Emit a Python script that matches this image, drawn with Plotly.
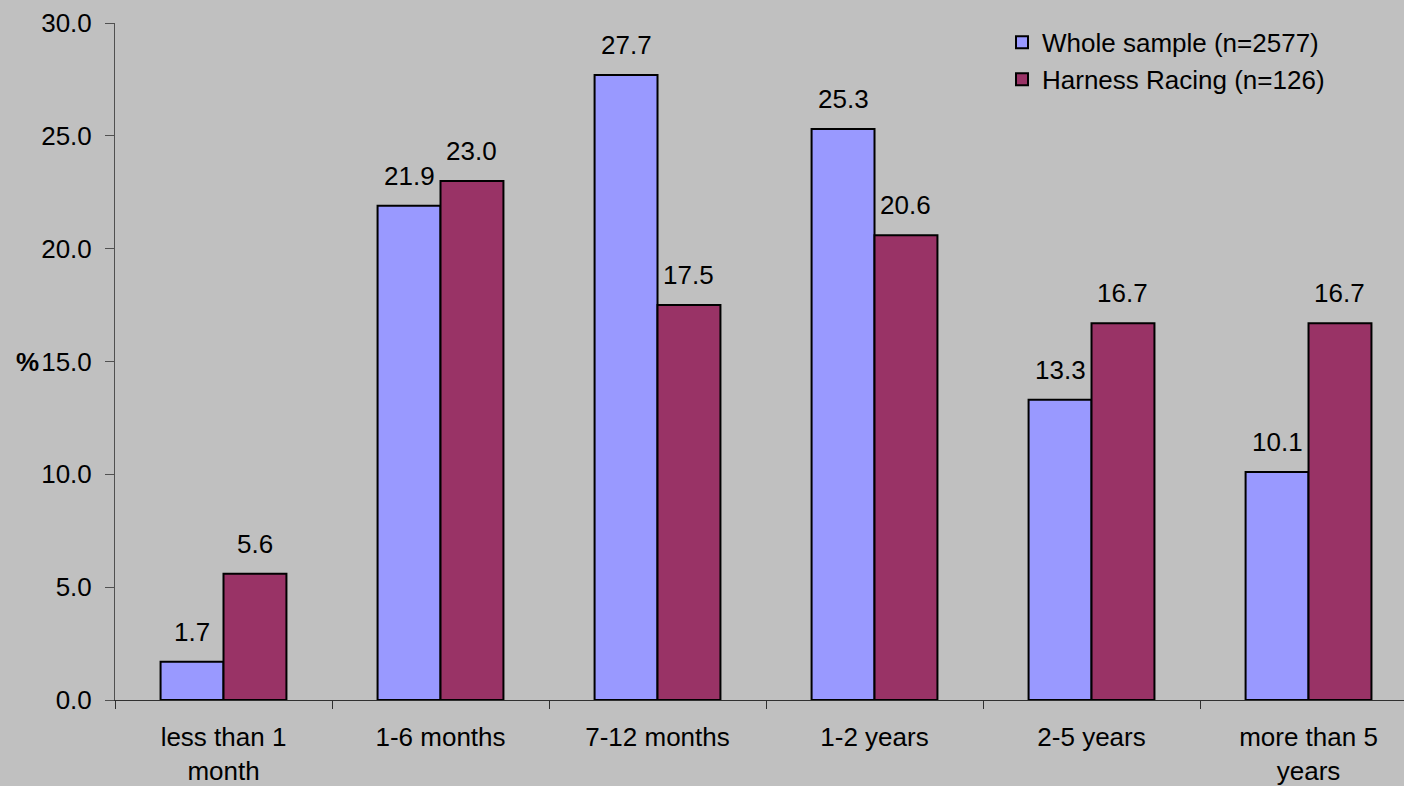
import plotly.graph_objects as go

categories = ["less than 1<br>month", "1-6 months", "7-12 months", "1-2 years", "2-5 years", "more than 5<br>years"]
whole_sample = [1.7, 21.9, 27.7, 25.3, 13.3, 10.1]
harness_racing = [5.6, 23.0, 17.5, 20.6, 16.7, 16.7]
series_names = ["Whole sample (n=2577)", "Harness Racing (n=126)"]
y_ticks = [0, 5, 10, 15, 20, 25, 30]

FONT = "Liberation Sans, Arial, sans-serif"
FS = 26
BG = "#C0C0C0"
W, H = 1404, 786
ML, MR, MT, MB = 115, 0, 23, 86
XR = [-0.5, 5.44]
BARGAP = 0.42

fig = go.Figure()
series = [(series_names[0], whole_sample, "#9999FF"),
          (series_names[1], harness_racing, "#993366")]
for name, vals, color in series:
    fig.add_trace(go.Bar(
        x=categories, y=vals, name=name,
        marker=dict(color=color, line=dict(color="black", width=2)),
        cliponaxis=False, hoverinfo="skip",
    ))

# value labels positioned from data coordinates
cat_px = (W - ML - MR) / (XR[1] - XR[0])
bar_px = cat_px * (1 - BARGAP) / 2
annotations = []
for si, (name, vals, color) in enumerate(series):
    shift = (si - 0.5) * bar_px
    for c, v in zip(categories, vals):
        annotations.append(dict(
            x=c, y=v, xref="x", yref="y", text=f"{v:.1f}", showarrow=False,
            xanchor="center", yanchor="bottom", xshift=shift, yshift=13,
            font=dict(family=FONT, size=FS, color="black")))

annotations.append(dict(text="<b>%</b>", xref="paper", yref="paper",
                        x=(27 - ML) / (W - ML - MR), y=(700 - 362) / 677,
                        xanchor="center", yanchor="middle", showarrow=False,
                        font=dict(size=FS, family=FONT, color="black")))

fig.update_layout(
    width=W, height=H,
    paper_bgcolor=BG, plot_bgcolor=BG,
    margin=dict(l=ML, r=MR, t=MT, b=MB),
    barmode="group", bargap=BARGAP, bargroupgap=0,
    font=dict(family=FONT, size=FS, color="black"),
    showlegend=True,
    legend=dict(x=(1002 - ML) / (W - ML - MR), y=1.006, xanchor="left", yanchor="top",
                bgcolor="rgba(0,0,0,0)", font=dict(size=FS, family=FONT),
                tracegroupgap=0, itemwidth=30),
    xaxis=dict(range=XR, showgrid=False, showline=True, linecolor="#303030",
               linewidth=1, ticks="outside", tickson="boundaries", ticklen=8,
               tickcolor="#303030", tickfont=dict(size=FS, family=FONT),
               zeroline=False, ticklabelstandoff=14),
    yaxis=dict(range=[0, 30], tickvals=y_ticks, ticktext=[f"{v:.1f}" for v in y_ticks],
               showgrid=False, showline=True, linecolor="#505050", linewidth=1,
               ticks="outside", ticklen=9, tickcolor="#505050",
               tickfont=dict(size=FS, family=FONT), zeroline=False,
               ticklabelstandoff=8),
    annotations=annotations,
)

fig.write_html("out.html", config={"displayModeBar": False},
               post_script="document.body.style.margin='0';document.body.style.background='#C0C0C0';")
